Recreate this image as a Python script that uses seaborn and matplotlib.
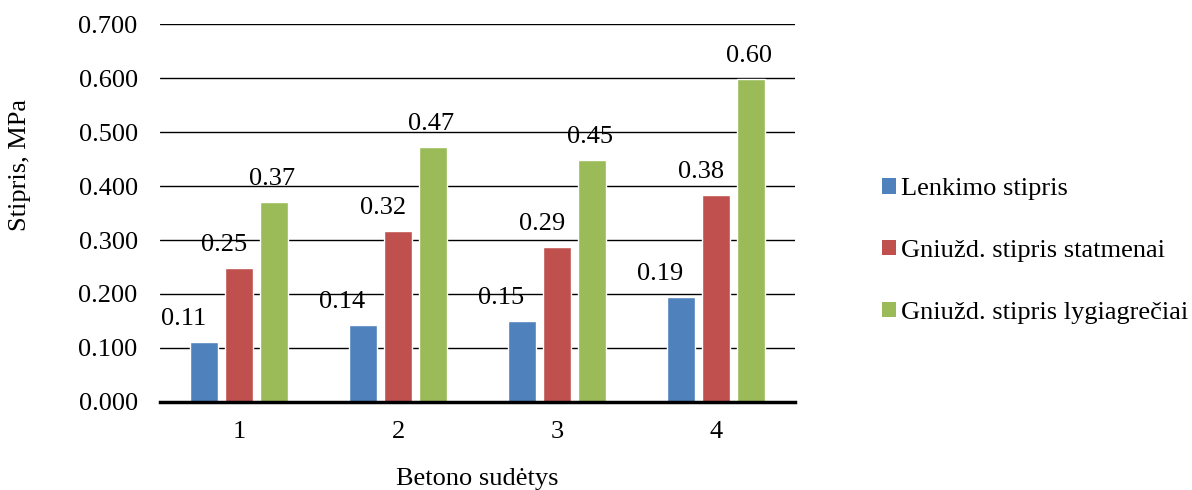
import matplotlib
matplotlib.use("Agg")
import matplotlib.pyplot as plt
import seaborn as sns
import pandas as pd
from matplotlib.patches import Patch

categories = ["1", "2", "3", "4"]
series_names = ["Lenkimo stipris", "Gniužd. stipris statmenai", "Gniužd. stipris lygiagrečiai"]
lenkimo = [0.111, 0.143, 0.150, 0.194]
statmenai = [0.248, 0.316, 0.287, 0.383]
lygiagreciai = [0.370, 0.472, 0.448, 0.598]
yticks = [0.0, 0.1, 0.2, 0.3, 0.4, 0.5, 0.6, 0.7]

colors = ["#4F81BD", "#C0504D", "#9BBB59"]

rows = []
for name, vals in zip(series_names, [lenkimo, statmenai, lygiagreciai]):
    for c, v in zip(categories, vals):
        rows.append({"Betono sudėtys": c, "Serija": name, "Stipris": v})
df = pd.DataFrame(rows)

sns.set_style("white")
plt.rcParams["font.family"] = ["Liberation Serif", "DejaVu Serif"]
plt.rcParams["text.color"] = "black"
plt.rcParams["axes.labelcolor"] = "black"
plt.rcParams["xtick.color"] = "black"
plt.rcParams["ytick.color"] = "black"

FS = 19
fig = plt.figure(figsize=(11.92, 4.9), dpi=100)
ax = fig.add_axes([0.1342, 0.1796, 0.667 - 0.1342, 0.951 - 0.1796])

sns.barplot(data=df, x="Betono sudėtys", y="Stipris", hue="Serija",
            order=categories, hue_order=series_names, palette=colors,
            width=0.66, gap=0.2, dodge=True, saturation=1, legend=False,
            errorbar=None, ax=ax, zorder=3)

ax.set_ylim(0, 0.7)
ax.set_xlim(-0.5, 3.5)
ax.set_yticks(yticks)
ax.set_yticklabels([f"{t:.3f}" for t in yticks])
ax.yaxis.grid(True, color="black", linewidth=1.0, zorder=0)
ax.set_axisbelow(True)
for s in ["left", "right", "top"]:
    ax.spines[s].set_visible(False)
ax.spines["bottom"].set_color("black")
ax.spines["bottom"].set_linewidth(2.5)
ax.spines["bottom"].set_zorder(5)
ax.tick_params(axis="y", length=0, pad=16, labelsize=FS, labelcolor="black")
ax.tick_params(axis="x", length=0, pad=14, labelsize=FS, labelcolor="black")
ax.set_xlabel("Betono sudėtys", fontsize=FS, labelpad=18, color="black")
ax.set_ylabel("")
fig.text(20 / 1192, 1 - 165 / 490, "Stipris, MPa", rotation=90,
         ha="center", va="center", fontsize=FS, color="black")

label_dx = [-21, -15, -2]
for i, cont in enumerate(ax.containers):
    for bar in cont:
        h = bar.get_height()
        ax.annotate(f"{h:.2f}", (bar.get_x() + bar.get_width() / 2, h),
                    xytext=(label_dx[i], 17), textcoords="offset pixels",
                    ha="center", va="baseline", fontsize=FS, color="black",
                    zorder=6)

handles = [Patch(facecolor=c, edgecolor="none") for c in colors]
leg = fig.legend(handles, series_names, loc="center left",
                 bbox_to_anchor=(0.720, (490 - 251) / 490), frameon=False,
                 fontsize=FS, handlelength=0.53, handleheight=0.53,
                 handletextpad=0.2, labelspacing=1.5)
for t in leg.get_texts():
    t.set_color("black")

fig.savefig("out.png", dpi=100)
